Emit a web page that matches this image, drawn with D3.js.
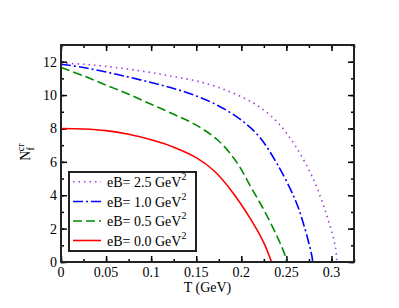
<!DOCTYPE html>
<html>
<head>
<meta charset="utf-8">
<script src="https://cdn.jsdelivr.net/npm/d3@7"></script>
<style>
  body { margin: 0; background: #fff; }
  svg text { font-family: "Liberation Serif", "Times New Roman", "DejaVu Serif", serif; fill: #000; }
</style>
</head>
<body>
<div id="chart"></div>
<script>
const W = 399, H = 308;
const margin = {left: 61, right: 45, top: 45, bottom: 46};
const w = W - margin.left - margin.right;
const h = H - margin.top - margin.bottom;
const serif = '"Liberation Serif", "Times New Roman", serif';

// series values
const t25 = [0, 0.025, 0.05, 0.075, 0.1, 0.125, 0.15, 0.175, 0.2, 0.22, 0.24, 0.26, 0.28, 0.295, 0.3044, 0.306];
const n25 = [11.9, 11.85, 11.72, 11.55, 11.35, 11.1, 10.85, 10.45, 9.9, 9.3, 8.38, 6.95, 4.95, 2.75, 0.9, 0];
const t10 = [0, 0.025, 0.05, 0.075, 0.1, 0.125, 0.15, 0.175, 0.2, 0.22, 0.24, 0.26, 0.27, 0.2785, 0.279];
const n10 = [11.85, 11.65, 11.38, 11.08, 10.75, 10.4, 9.95, 9.35, 8.5, 7.5, 5.85, 3.7, 2.1, 0.3, 0];
const t05 = [0, 0.025, 0.05, 0.075, 0.1, 0.125, 0.15, 0.175, 0.195, 0.21, 0.225, 0.24, 0.249, 0.25];
const n05 = [11.65, 11.15, 10.6, 10.05, 9.45, 8.85, 8.2, 7.25, 5.97, 4.55, 3.12, 1.5, 0.32, 0];
const t00 = [0, 0.025, 0.05, 0.075, 0.1, 0.125, 0.15, 0.17, 0.19, 0.21, 0.225, 0.2335];
const n00 = [8.0, 7.97, 7.87, 7.65, 7.32, 6.88, 6.25, 5.45, 4.2, 2.6, 1.15, 0];

const legendLabels = ['2.5', '1.0', '0.5', '0.0'];
const xTicks = [0, 0.05, 0.1, 0.15, 0.2, 0.25, 0.3];
const yTicks = [0, 2, 4, 6, 8, 10, 12];

const series = [
  {t: t25, n: n25, color: '#9a40e6', dash: '1.5,4', width: 1.6},
  {t: t10, n: n10, color: '#0000ff', dash: '10,3,2,3', width: 1.6},
  {t: t05, n: n05, color: '#008b00', dash: '9,4', width: 1.6},
  {t: t00, n: n00, color: '#ff0000', dash: null, width: 1.6}
];

const svg = d3.select('#chart').append('svg')
  .attr('width', W).attr('height', H);
const g = svg.append('g').attr('transform', `translate(${margin.left},${margin.top})`);

const x = d3.scaleLinear().domain([0, 0.325]).range([0, w]);
const y = d3.scaleLinear().domain([0, 13]).range([h, 0]);

// ticks on all four sides, inward
const xMinor = d3.range(0, 0.326, 0.025);
const yMinor = d3.range(0, 13.01, 1);
function tickSet(axis, vals, len) {
  return axis.tickValues(vals).tickSize(len).tickFormat('');
}
g.append('g').attr('transform', `translate(0,${h})`)
  .call(tickSet(d3.axisTop(x), xMinor, 3));
g.append('g').attr('transform', `translate(0,${h})`)
  .call(tickSet(d3.axisTop(x), xTicks, 6));
g.append('g').call(tickSet(d3.axisBottom(x), xMinor, 3));
g.append('g').call(tickSet(d3.axisBottom(x), xTicks, 6));
g.append('g').call(tickSet(d3.axisRight(y), yMinor, 3));
g.append('g').call(tickSet(d3.axisRight(y), yTicks, 6));
g.append('g').attr('transform', `translate(${w},0)`).call(tickSet(d3.axisLeft(y), yMinor, 3));
g.append('g').attr('transform', `translate(${w},0)`).call(tickSet(d3.axisLeft(y), yTicks, 6));
g.selectAll('.domain').remove();
g.selectAll('.tick line').attr('stroke', '#000').attr('stroke-width', 1.5);

// tick labels
g.selectAll('.xlab').data(xTicks).enter().append('text')
  .attr('x', d => x(d)).attr('y', h + 15)
  .attr('font-family', serif)
  .attr('text-anchor', 'middle').attr('font-size', 14)
  .text(d => d === 0 ? '0' : String(d));
g.selectAll('.ylab').data(yTicks).enter().append('text')
  .attr('x', -4).attr('y', d => y(d) + 5)
  .attr('font-family', serif)
  .attr('text-anchor', 'end').attr('font-size', 14)
  .text(d => d);

// curves
const line = d3.line().curve(d3.curveCatmullRom.alpha(0.5));
series.forEach(s => {
  const pts = s.t.map((t, i) => [x(t), y(s.n[i])]);
  g.append('path').attr('d', line(pts))
    .attr('fill', 'none').attr('stroke', s.color)
    .attr('stroke-width', s.width)
    .attr('stroke-dasharray', s.dash);
});

// frame
g.append('rect').attr('width', w).attr('height', h)
  .attr('fill', 'none').attr('stroke', '#222').attr('stroke-width', 2);

// axis titles
svg.append('text').attr('x', margin.left + w / 2).attr('y', 292)
  .attr('font-family', serif)
  .attr('text-anchor', 'middle').attr('font-size', 14).text('T (GeV)');
const yl = svg.append('text').attr('transform', 'translate(30,152) rotate(-90)')
  .attr('font-family', serif)
  .attr('text-anchor', 'middle').attr('font-size', 14);
yl.append('tspan').text('N');
yl.append('tspan').attr('font-size', 10).attr('dy', 4).text('f');
yl.append('tspan').attr('font-size', 10).attr('dx', -4).attr('dy', -10).text('cr');

// legend
const lg = svg.append('g');
lg.append('rect').attr('x', 69).attr('y', 172).attr('width', 127).attr('height', 79)
  .attr('fill', '#fff').attr('stroke', '#222').attr('stroke-width', 2);
const ly = [181.7, 201.5, 221, 240.5];
series.forEach((s, i) => {
  lg.append('line').attr('x1', 73).attr('x2', 101).attr('y1', ly[i]).attr('y2', ly[i])
    .attr('stroke', s.color).attr('stroke-width', s.width)
    .attr('stroke-dasharray', s.dash);
  const tx = lg.append('text').attr('x', 107).attr('y', ly[i] + 5)
    .attr('font-family', serif).attr('font-size', 14);
  tx.append('tspan').text(`eB= ${legendLabels[i]} GeV`);
  tx.append('tspan').attr('font-size', 10).attr('dy', -7).text('2');
});
</script>
</body>
</html>
